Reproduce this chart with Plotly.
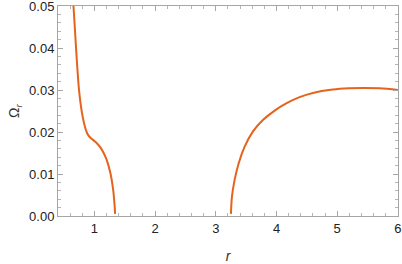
import plotly.graph_objects as go

# Left branch (inner)
r_left = [0.655, 0.681, 0.714, 0.752, 0.807, 0.862, 0.9, 0.945, 1.028, 1.11, 1.193, 1.264, 1.309, 1.33, 1.341]
omega_left = [0.050, 0.0440, 0.0362, 0.0292, 0.0236, 0.0204, 0.0192, 0.0185, 0.0175, 0.0161, 0.0137, 0.0102, 0.0062, 0.0030, 0.0005]

# Right branch (outer)
r_right = [3.25, 3.266, 3.31, 3.376, 3.475, 3.61, 3.78, 3.97, 4.16, 4.38, 4.6, 4.93, 5.2, 5.43, 5.7, 6.0]
omega_right = [0.0005, 0.0046, 0.0086, 0.0125, 0.0165, 0.0201, 0.0229, 0.0251, 0.0268, 0.0283, 0.0293, 0.0301, 0.0304, 0.0305, 0.0304, 0.0300]

x_ticks = [1, 2, 3, 4, 5, 6]
y_ticks = [0.00, 0.01, 0.02, 0.03, 0.04, 0.05]

color = "#E5631C"
fig = go.Figure()
for xs, ys in [(r_left, omega_left), (r_right, omega_right)]:
    fig.add_trace(go.Scatter(x=xs, y=ys, mode="lines",
                             line=dict(color=color, width=2, shape="spline", smoothing=1.0),
                             showlegend=False, hoverinfo="skip"))

axis_common = dict(showline=True, linecolor="#a6a6a6", linewidth=1, mirror="allticks",
                   ticks="inside", ticklen=5, tickcolor="#a6a6a6", showgrid=False,
                   zeroline=False, tickfont=dict(size=13, color="#222"),
                   ticklabeloverflow="allow", automargin=False)
fig.update_xaxes(range=[0.4, 6.002], tickvals=x_ticks, ticktext=[str(v) for v in x_ticks],
                 minor=dict(dtick=0.2, tick0=0, ticks="inside", ticklen=3, tickcolor="#b5b5b5", showgrid=False),
                 title=dict(text="<i>r</i>", font=dict(size=14, color="#333"), standoff=16),
                 **axis_common)
fig.update_yaxes(range=[0, 0.05001], tickvals=y_ticks, ticktext=[f"{v:.2f}" for v in y_ticks],
                 minor=dict(dtick=0.002, tick0=0, ticks="inside", ticklen=3, tickcolor="#b5b5b5", showgrid=False),
                 title=dict(text="Ω<sub><i>r</i></sub>", font=dict(size=14, color="#333"), standoff=6),
                 **axis_common)
fig.update_layout(width=402, height=264, margin=dict(l=58, r=4, t=6, b=48),
                  paper_bgcolor="white", plot_bgcolor="white",
                  font=dict(family="Liberation Sans, Arial, sans-serif"))
fig.write_html("out.html", config={"displayModeBar": False},
               post_script="document.body.style.margin='0';")
